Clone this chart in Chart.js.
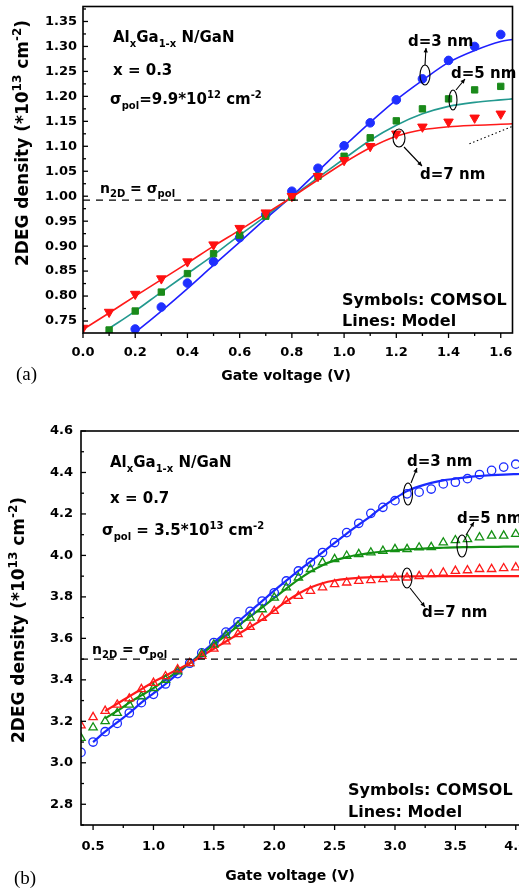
<!DOCTYPE html>
<html>
<head>
<meta charset="utf-8">
<script src="https://cdn.jsdelivr.net/npm/chart.js@4/dist/chart.umd.min.js"></script>
<style>
  body { margin: 0; background: #fff; overflow: hidden; }
  #page { position: relative; width: 519px; height: 892px; overflow: hidden; }
  #boxA { position: absolute; left: 0; top: 0; }
  #boxB { position: absolute; left: 0; top: 395px; }
</style>
</head>
<body>
<div id="page">
  <div id="boxA"><canvas id="chartA" width="519" height="395"></canvas></div>
  <div id="boxB"><canvas id="chartB" width="540" height="497"></canvas></div>
</div>
<script>
// ---------- panel (a): x = 0.3 ----------
const voltsA = [0.0, 0.1, 0.2, 0.3, 0.4, 0.5, 0.6, 0.7, 0.8, 0.9, 1.0, 1.1, 1.2, 1.3, 1.4, 1.5, 1.6];
const comsolA_d3 = [null, null, 0.734, 0.778, 0.826, 0.869, 0.917, 0.963, 1.01, 1.056, 1.101, 1.147, 1.193, 1.235, 1.272, 1.30, 1.324];
const comsolA_d5 = [null, 0.732, 0.77, 0.808, 0.845, 0.885, 0.922, 0.96, 0.998, 1.04, 1.08, 1.117, 1.151, 1.175, 1.195, 1.213, 1.22];
const comsolA_d7 = [0.736, 0.768, 0.804, 0.835, 0.869, 0.903, 0.936, 0.967, 1.0, 1.04, 1.072, 1.10, 1.125, 1.139, 1.149, 1.157, 1.165];

const modelVoltsA = [0.0, 0.1, 0.2, 0.3, 0.4, 0.5, 0.6, 0.7, 0.8, 0.9, 1.0, 1.1, 1.2, 1.3, 1.4, 1.5, 1.6, 1.645];
const modelA_d3 = [null, null, 0.727, 0.77, 0.815, 0.862, 0.908, 0.955, 1.0, 1.05, 1.10, 1.148, 1.193, 1.232, 1.268, 1.292, 1.31, 1.314];
const modelA_d5 = [null, 0.735, 0.77, 0.808, 0.845, 0.882, 0.922, 0.96, 0.999, 1.037, 1.075, 1.112, 1.142, 1.165, 1.18, 1.188, 1.193, 1.195];
const modelA_d7 = [0.733, 0.766, 0.8, 0.833, 0.866, 0.9, 0.932, 0.965, 0.998, 1.033, 1.067, 1.097, 1.12, 1.133, 1.139, 1.142, 1.144, 1.145];

const sigmaLineA_x = [0, 1.645];
const sigmaLineA_y = [0.992, 0.992];
const dottedA_x = [1.48, 1.645];
const dottedA_y = [1.105, 1.14];

const xTicksA = [0.0, 0.2, 0.4, 0.6, 0.8, 1.0, 1.2, 1.4, 1.6];
const yTicksA = [0.75, 0.80, 0.85, 0.90, 0.95, 1.00, 1.05, 1.10, 1.15, 1.20, 1.25, 1.30, 1.35];

// ---------- panel (b): x = 0.7 ----------
const voltsB = [0.4, 0.5, 0.6, 0.7, 0.8, 0.9, 1.0, 1.1, 1.2, 1.3, 1.4, 1.5, 1.6, 1.7, 1.8, 1.9, 2.0, 2.1, 2.2, 2.3,
                2.4, 2.5, 2.6, 2.7, 2.8, 2.9, 3.0, 3.1, 3.2, 3.3, 3.4, 3.5, 3.6, 3.7, 3.8, 3.9, 4.0];
const comsolB_d3 = [3.05, 3.10, 3.15, 3.19, 3.24, 3.29, 3.33, 3.38, 3.43, 3.48, 3.53, 3.58, 3.63, 3.68, 3.73, 3.78, 3.82, 3.877, 3.925, 3.966,
                    4.014, 4.062, 4.11, 4.155, 4.203, 4.232, 4.264, 4.297, 4.305, 4.32, 4.345, 4.353, 4.37, 4.39, 4.41, 4.426, 4.44];
const comsolB_d5 = [3.12, 3.17, 3.20, 3.24, 3.28, 3.32, 3.36, 3.40, 3.44, 3.48, 3.525, 3.57, 3.615, 3.66, 3.70, 3.74, 3.796, 3.845, 3.893, 3.934,
                    3.966, 3.982, 3.998, 4.006, 4.014, 4.022, 4.03, 4.03, 4.038, 4.04, 4.062, 4.073, 4.078, 4.087, 4.095, 4.095, 4.103];
const comsolB_d7 = [3.18, 3.22, 3.25, 3.28, 3.31, 3.355, 3.385, 3.417, 3.45, 3.48, 3.515, 3.55, 3.585, 3.62, 3.655, 3.699, 3.732, 3.78, 3.804, 3.829,
                    3.845, 3.861, 3.869, 3.877, 3.88, 3.885, 3.893, 3.893, 3.90, 3.909, 3.917, 3.925, 3.928, 3.934, 3.934, 3.938, 3.942];

const modelVoltsB = [0.5, 0.6, 0.7, 0.8, 0.9, 1.0, 1.1, 1.2, 1.3, 1.4, 1.5, 1.6, 1.7, 1.8, 1.9, 2.0, 2.1, 2.2, 2.3, 2.4,
                     2.5, 2.6, 2.7, 2.8, 2.9, 3.0, 3.1, 3.2, 3.3, 3.4, 3.5, 3.6, 3.7, 3.8, 3.9, 4.0, 4.06];
const modelB_d3 = [3.10, 3.15, 3.195, 3.24, 3.29, 3.335, 3.38, 3.43, 3.48, 3.53, 3.58, 3.63, 3.68, 3.73, 3.78, 3.83, 3.878, 3.925, 3.97, 4.015,
                   4.06, 4.105, 4.148, 4.19, 4.235, 4.275, 4.31, 4.333, 4.35, 4.362, 4.37, 4.378, 4.383, 4.387, 4.39, 4.392, 4.393];
const modelB_d5 = [null, 3.215, 3.25, 3.29, 3.325, 3.36, 3.40, 3.44, 3.48, 3.525, 3.57, 3.615, 3.66, 3.705, 3.75, 3.795, 3.84, 3.883, 3.922, 3.953,
                   3.976, 3.992, 4.003, 4.012, 4.019, 4.025, 4.029, 4.032, 4.035, 4.037, 4.039, 4.04, 4.041, 4.041, 4.042, 4.042, 4.042];
const modelB_d7 = [null, 3.25, 3.285, 3.32, 3.355, 3.39, 3.42, 3.45, 3.48, 3.515, 3.55, 3.585, 3.62, 3.655, 3.69, 3.735, 3.778, 3.815, 3.845, 3.866,
                   3.879, 3.887, 3.892, 3.895, 3.897, 3.898, 3.899, 3.899, 3.9, 3.9, 3.9, 3.9, 3.9, 3.9, 3.9, 3.9, 3.9];

const sigmaLineB_x = [0.4, 4.06];
const sigmaLineB_y = [3.5, 3.5];

const xTicksB = [0.5, 1.0, 1.5, 2.0, 2.5, 3.0, 3.5, 4.0];
const yTicksB = [2.8, 3.0, 3.2, 3.4, 3.6, 3.8, 4.0, 4.2, 4.4, 4.6];

// ---------- helpers ----------
const FONT = '"DejaVu Sans", sans-serif';
const OFF_B = 395; // top of canvas B on the page

const pts = (xs, ys) => xs.map((x, i) => ({ x: x, y: ys[i] })).filter(p => p.y != null);

function rich(ctx, parts, x, y, size, measureOnly) {
    let cx = x;
    parts.forEach(([s, mode]) => {
        const fs = mode ? Math.round(size * 0.68) : size;
        ctx.font = `bold ${fs}px ${FONT}`;
        const dy = mode === 'sub' ? size * 0.3 : mode === 'sup' ? -size * 0.42 : 0;
        if (!measureOnly) ctx.fillText(s, cx, y + dy);
        cx += ctx.measureText(s).width;
    });
    return cx - x;
}

function arrow(ctx, x1, y1, x2, y2) {
    ctx.beginPath(); ctx.moveTo(x1, y1); ctx.lineTo(x2, y2); ctx.stroke();
    const a = Math.atan2(y2 - y1, x2 - x1), h = 5;
    ctx.beginPath();
    ctx.moveTo(x2, y2);
    ctx.lineTo(x2 - h * Math.cos(a - 0.45), y2 - h * Math.sin(a - 0.45));
    ctx.lineTo(x2 - h * Math.cos(a + 0.45), y2 - h * Math.sin(a + 0.45));
    ctx.closePath(); ctx.fill();
}

function ellipse(ctx, cx, cy, rx, ry) {
    ctx.beginPath(); ctx.ellipse(cx, cy, rx, ry, 0, 0, Math.PI * 2); ctx.stroke();
}

function yTitle(ctx, cx, cy) {
    const parts = [['2DEG density (*10', ''], ['13', 'sup'], [' cm', ''], ['-2', 'sup'], [')', '']];
    ctx.save();
    ctx.translate(cx, cy);
    ctx.rotate(-Math.PI / 2);
    const w = rich(ctx, parts, 0, 0, 17, true);
    rich(ctx, parts, -w / 2, 6, 17);
    ctx.restore();
}

function centered(ctx, text, cx, y, size) {
    ctx.font = `bold ${size}px ${FONT}`;
    const w = ctx.measureText(text).width;
    ctx.fillText(text, cx - w / 2, y);
}

// frame + tick marks (y ticks inward, x ticks outward, with minor ticks)
const frame = {
    id: 'frame',
    afterDatasetsDraw(chart) {
        const { ctx, chartArea: a, scales } = chart;
        ctx.save();
        ctx.strokeStyle = '#000';
        ctx.lineWidth = 1.6;
        ctx.strokeRect(a.left, a.top, a.right - a.left, a.bottom - a.top);
        ctx.lineWidth = 1.3;
        const marks = (scale, horiz) => {
            const vals = scale.ticks.map(t => t.value);
            const step = vals[1] - vals[0];
            const all = [];
            for (let v = vals[0] - step; v <= scale.max + 1e-9; v += step / 2) all.push(v);
            all.forEach(v => {
                if (v < scale.min - 1e-9 || v > scale.max + 1e-9) return;
                const major = vals.some(m => Math.abs(m - v) < step / 10);
                const len = major ? 5 : 3;
                const p = scale.getPixelForValue(v);
                ctx.beginPath();
                if (horiz) { ctx.moveTo(p, a.bottom); ctx.lineTo(p, a.bottom + len); }
                else { ctx.moveTo(a.left, p); ctx.lineTo(a.left + len, p); }
                ctx.stroke();
            });
        };
        marks(scales.x, true);
        marks(scales.y, false);
        ctx.restore();
    }
};

function axes(xMin, xMax, xTicks, xDec, xPad, yMin, yMax, yTicks, yDec, yPad, yWidth, xHeight) {
    const tickFont = { family: 'DejaVu Sans', weight: 'bold', size: 13 };
    return {
        x: {
            type: 'linear', min: xMin, max: xMax,
            grid: { display: false, drawTicks: false },
            border: { display: false },
            afterBuildTicks: s => { s.ticks = xTicks.map(v => ({ value: v })); },
            ticks: { font: tickFont, color: '#000', padding: xPad, maxRotation: 0, autoSkip: false,
                     callback: v => Number(v).toFixed(xDec) },
            afterFit: s => { s.height = xHeight; s.paddingLeft = 0; s.paddingRight = 0; }
        },
        y: {
            type: 'linear', min: yMin, max: yMax,
            grid: { display: false, drawTicks: false },
            border: { display: false },
            afterBuildTicks: s => { s.ticks = yTicks.map(v => ({ value: v })); },
            ticks: { font: tickFont, color: '#000', padding: yPad, autoSkip: false,
                     callback: v => Number(v).toFixed(yDec) },
            afterFit: s => { s.width = yWidth; s.paddingTop = 0; s.paddingBottom = 0; }
        }
    };
}

const common = {
    responsive: false,
    animation: false,
    events: [],
    plugins: { legend: { display: false }, tooltip: { enabled: false } }
};

function symbols(data, color, style, radius, filled, rotation) {
    return { data: data, showLine: false, pointStyle: style, pointRadius: radius, pointRotation: rotation || 0,
             pointBorderColor: color, pointBackgroundColor: filled ? color : 'rgba(0,0,0,0)',
             pointBorderWidth: filled ? 1 : 1.3 };
}
function curve(data, color, width) {
    return { data: data, showLine: true, pointRadius: 0, borderColor: color, borderWidth: width,
             cubicInterpolationMode: 'monotone' };
}
function guide(data, dash, width) {
    return { data: data, showLine: true, pointRadius: 0, borderColor: '#000', borderWidth: width, borderDash: dash };
}

// ---------- chart (a) ----------
const notesA = {
    id: 'notesA',
    afterDraw(chart) {
        const ctx = chart.ctx;
        ctx.save();
        ctx.fillStyle = '#000'; ctx.strokeStyle = '#000'; ctx.lineWidth = 1.1;
        rich(ctx, [['Al', ''], ['x', 'sub'], ['Ga', ''], ['1-x', 'sub'], [' N/GaN', '']], 113, 42, 15);
        rich(ctx, [['x = 0.3', '']], 113, 75, 15);
        rich(ctx, [['σ', ''], ['pol', 'sub'], ['=9.9*10', ''], ['12', 'sup'], [' cm', ''], ['-2', 'sup']], 110, 104, 15);
        rich(ctx, [['n', ''], ['2D', 'sub'], [' = σ', ''], ['pol', 'sub']], 100, 193, 14);
        rich(ctx, [['d=3 nm', '']], 408, 46, 15);
        rich(ctx, [['d=5 nm', '']], 451, 78, 15);
        rich(ctx, [['d=7 nm', '']], 420, 179, 15);
        rich(ctx, [['Symbols: COMSOL', '']], 342, 305, 16);
        rich(ctx, [['Lines: Model', '']], 342, 326, 16);
        ellipse(ctx, 425, 75, 5, 10); arrow(ctx, 425, 65, 426, 48);
        ellipse(ctx, 453, 100, 4, 10); arrow(ctx, 456, 90, 465, 79);
        ellipse(ctx, 399, 138, 6, 9); arrow(ctx, 404, 147, 422, 166);
        centered(ctx, 'Gate voltage (V)', 286, 380, 14);
        yTitle(ctx, 22, 143);
        ctx.font = `19px "Liberation Serif", serif`;
        ctx.fillText('(a)', 16, 380);
        ctx.restore();
    }
};

new Chart(document.getElementById('chartA'), {
    type: 'scatter',
    data: {
        datasets: [
            guide(pts(sigmaLineA_x, sigmaLineA_y), [7, 6], 1.2),
            guide(pts(dottedA_x, dottedA_y), [1.5, 2.5], 1.1),
            symbols(pts(voltsA, comsolA_d7), '#ff1010', 'triangle', 5.5, true, 180),
            symbols(pts(voltsA, comsolA_d5), '#1a8a1a', 'rect', 4.5, true),
            symbols(pts(voltsA, comsolA_d3), '#1f2fff', 'circle', 4.3, true),
            curve(pts(modelVoltsA, modelA_d7), '#ff1a1a', 1.6),
            curve(pts(modelVoltsA, modelA_d5), '#23998f', 1.6),
            curve(pts(modelVoltsA, modelA_d3), '#2020ff', 1.6)
        ]
    },
    options: Object.assign({}, common, {
        layout: { padding: { left: 0, top: 4, right: 2, bottom: 0 } },
        scales: axes(0, 1.645, xTicksA, 1, 12, 0.726, 1.38, yTicksA, 2, 6, 83, 62)
    }),
    plugins: [frame, notesA]
});

// ---------- chart (b) ----------
const notesB = {
    id: 'notesB',
    afterDraw(chart) {
        const ctx = chart.ctx;
        const Y = v => v - OFF_B;
        ctx.save();
        ctx.fillStyle = '#000'; ctx.strokeStyle = '#000'; ctx.lineWidth = 1.1;
        rich(ctx, [['Al', ''], ['x', 'sub'], ['Ga', ''], ['1-x', 'sub'], [' N/GaN', '']], 110, Y(467), 15);
        rich(ctx, [['x = 0.7', '']], 110, Y(503), 15);
        rich(ctx, [['σ', ''], ['pol', 'sub'], [' = 3.5*10', ''], ['13', 'sup'], [' cm', ''], ['-2', 'sup']], 102, Y(535), 15);
        rich(ctx, [['n', ''], ['2D', 'sub'], [' = σ', ''], ['pol', 'sub']], 92, Y(654), 14);
        rich(ctx, [['d=3 nm', '']], 407, Y(466), 15);
        rich(ctx, [['d=5 nm', '']], 457, Y(523), 15);
        rich(ctx, [['d=7 nm', '']], 422, Y(617), 15);
        rich(ctx, [['Symbols: COMSOL', '']], 348, Y(795), 16);
        rich(ctx, [['Lines: Model', '']], 348, Y(817), 16);
        ellipse(ctx, 408, Y(494), 4.5, 11); arrow(ctx, 411, Y(483), 417, Y(468));
        ellipse(ctx, 462, Y(546), 5, 11); arrow(ctx, 466, Y(535), 474, Y(522));
        ellipse(ctx, 407, Y(578), 5, 10); arrow(ctx, 410, Y(588), 425, Y(607));
        centered(ctx, 'Gate voltage (V)', 290, Y(880), 14);
        yTitle(ctx, 18, Y(620));
        ctx.font = `19px "Liberation Serif", serif`;
        ctx.fillText('(b)', 14, Y(884));
        ctx.restore();
    }
};

new Chart(document.getElementById('chartB'), {
    type: 'scatter',
    data: {
        datasets: [
            guide(pts(sigmaLineB_x, sigmaLineB_y), [7, 6], 1.2),
            symbols(pts(voltsB, comsolB_d7), '#ff1a1a', 'triangle', 4.8, false),
            symbols(pts(voltsB, comsolB_d5), '#139013', 'triangle', 4.8, false),
            symbols(pts(voltsB, comsolB_d3), '#1a2aff', 'circle', 4.2, false),
            curve(pts(modelVoltsB, modelB_d7), '#ff1a1a', 2.2),
            curve(pts(modelVoltsB, modelB_d5), '#139013', 2.2),
            curve(pts(modelVoltsB, modelB_d3), '#1a2aff', 2.2)
        ]
    },
    options: Object.assign({}, common, {
        layout: { padding: { left: 0, top: 36, right: 17, bottom: 0 } },
        scales: axes(0.4, 4.06, xTicksB, 1, 14, 2.7, 4.6, yTicksB, 1, 8, 81, 67)
    }),
    plugins: [frame, notesB]
});
</script>
</body>
</html>
